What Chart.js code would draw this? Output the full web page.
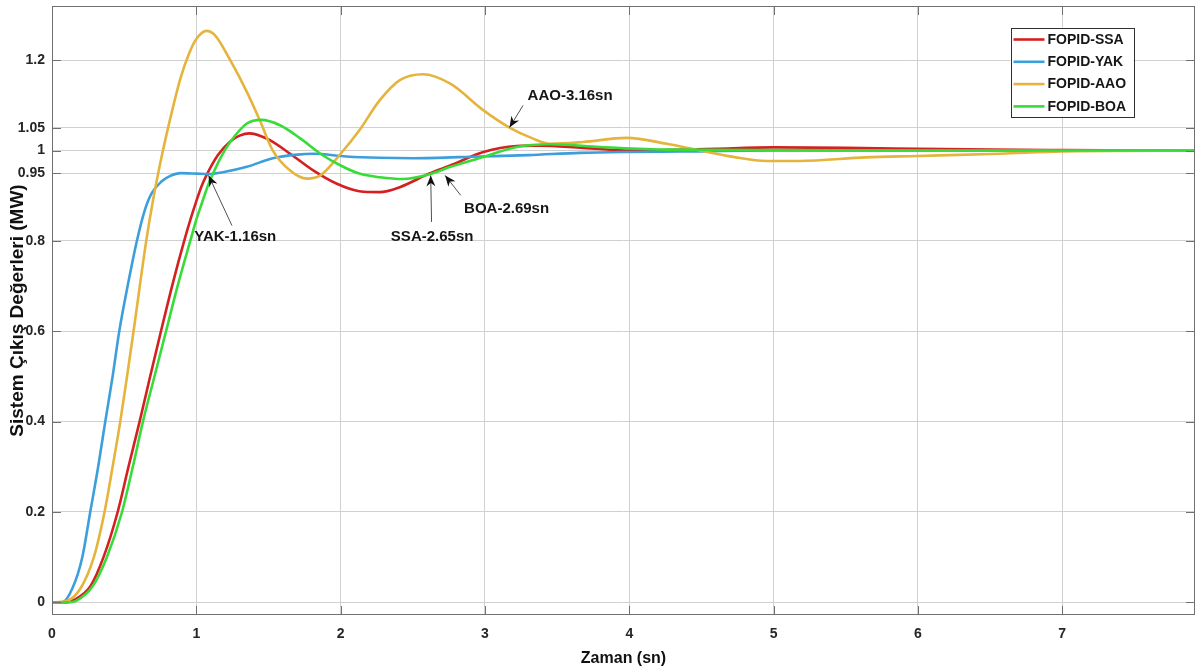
<!DOCTYPE html>
<html><head><meta charset="utf-8">
<script src="https://cdn.jsdelivr.net/npm/chart.js@4.4.1/dist/chart.umd.min.js"></script>
<style>html,body{margin:0;padding:0;background:#fff;overflow:hidden}</style>
</head><body>
<canvas id="c" width="1197" height="671"></canvas>
<script>
// ---------- data ----------
const seriesNames = ['FOPID-SSA', 'FOPID-YAK', 'FOPID-AAO', 'FOPID-BOA'];

const ssaTime = [0, 0.1, 0.15, 0.265, 0.357, 0.455, 0.53, 0.607, 0.68, 0.755, 0.84, 0.916, 0.96, 1.0, 1.035, 1.07, 1.15, 1.235, 1.3, 1.37, 1.44, 1.51, 1.65, 1.81, 1.97, 2.13, 2.27, 2.41, 2.62, 2.76, 2.99, 3.22, 3.38, 3.68, 4.03, 4.26, 4.6, 5.0, 5.5, 6.0, 6.5, 7.0, 7.92];
const ssaValue = [0, 0, 0.005, 0.035, 0.1, 0.2, 0.3, 0.4, 0.5, 0.6, 0.71, 0.8, 0.848, 0.888, 0.92, 0.945, 0.99, 1.02, 1.033, 1.038, 1.033, 1.023, 0.993, 0.956, 0.927, 0.91, 0.908, 0.919, 0.95, 0.967, 0.997, 1.01, 1.011, 1.006, 1.0, 1.001, 1.004, 1.007, 1.006, 1.004, 1.002, 1.001, 1.0];

const yakTime = [0, 0.07, 0.14, 0.21, 0.265, 0.32, 0.369, 0.42, 0.466, 0.53, 0.588, 0.64, 0.69, 0.76, 0.82, 0.89, 1.0, 1.08, 1.2, 1.35, 1.53, 1.7, 1.81, 2.04, 2.27, 2.5, 2.97, 3.3, 3.66, 4.0, 4.35, 5.0, 6.0, 7.0, 7.92];
const yakValue = [0, 0, 0.03, 0.1, 0.2, 0.3, 0.4, 0.5, 0.6, 0.71, 0.8, 0.865, 0.905, 0.932, 0.944, 0.95, 0.949, 0.948, 0.953, 0.964, 0.983, 0.991, 0.993, 0.987, 0.984, 0.983, 0.987, 0.99, 0.995, 0.997, 0.998, 1.0, 1.0, 1.0, 1.0];

const aaoTime = [0, 0.1, 0.196, 0.29, 0.364, 0.42, 0.473, 0.52, 0.565, 0.653, 0.70, 0.762, 0.83, 0.89, 0.95, 1.0, 1.07, 1.13, 1.235, 1.35, 1.44, 1.53, 1.65, 1.765, 1.86, 2.0, 2.13, 2.27, 2.41, 2.57, 2.76, 2.99, 3.17, 3.33, 3.45, 3.68, 3.98, 4.26, 4.49, 4.72, 4.95, 5.18, 5.64, 6.0, 6.57, 7.0, 7.92];
const aaoValue = [0, 0.003, 0.03, 0.1, 0.2, 0.3, 0.4, 0.5, 0.6, 0.8, 0.89, 0.99, 1.085, 1.16, 1.215, 1.247, 1.265, 1.255, 1.2, 1.13, 1.067, 1.0, 0.956, 0.938, 0.945, 0.993, 1.045, 1.111, 1.156, 1.169, 1.148, 1.089, 1.051, 1.027, 1.015, 1.019, 1.028, 1.015, 1.0, 0.986, 0.977, 0.977, 0.985, 0.988, 0.993, 0.998, 1.0];

const boaTime = [0, 0.1, 0.17, 0.28, 0.38, 0.485, 0.56, 0.63, 0.71, 0.79, 0.87, 0.958, 1.0, 1.04, 1.08, 1.11, 1.17, 1.235, 1.35, 1.45, 1.58, 1.72, 1.86, 2.0, 2.13, 2.27, 2.43, 2.62, 2.76, 2.99, 3.22, 3.45, 3.8, 4.26, 5.0, 6.0, 7.0, 7.92];
const boaValue = [0, 0, 0.004, 0.035, 0.1, 0.2, 0.3, 0.4, 0.5, 0.6, 0.7, 0.8, 0.847, 0.885, 0.922, 0.945, 0.985, 1.019, 1.06, 1.068, 1.056, 1.027, 0.993, 0.967, 0.949, 0.941, 0.937, 0.948, 0.964, 0.986, 1.008, 1.014, 1.008, 1.002, 1.001, 1.0, 1.0, 1.0];

const xTicks = [0, 1, 2, 3, 4, 5, 6, 7];
const yTicks = [0, 0.2, 0.4, 0.6, 0.8, 0.95, 1, 1.05, 1.2];

const xTitle = 'Zaman (sn)';
const yTitle = 'Sistem Çıkış Değerleri (MW)';

const noteLabels = ['YAK-1.16sn', 'SSA-2.65sn', 'BOA-2.69sn', 'AAO-3.16sn'];

// ---------- styling / placement ----------
const colors = ['#d42020', '#3c9fdc', '#e5b43c', '#38dc38'];
const drawOrder = [3, 2, 1, 0]; // BOA on top
const FONT = '"Liberation Sans", Arial, Helvetica, sans-serif';

// annotation placement in data coordinates: text centre, arrow tail, arrow tip
const notePlacement = [
  {text: [1.27, 0.808], tail: [1.247, 0.834], tip: [1.085, 0.945]},
  {text: [2.634, 0.808], tail: [2.63, 0.842], tip: [2.624, 0.945]},
  {text: [3.15, 0.872], tail: [2.832, 0.901], tip: [2.724, 0.945]},
  {text: [3.59, 1.122], tail: [3.264, 1.1], tip: [3.17, 1.051]}
];

function pts(t, v) { return t.map((x, i) => ({x: x, y: v[i]})); }
const allSeries = [[ssaTime, ssaValue], [yakTime, yakValue], [aaoTime, aaoValue], [boaTime, boaValue]];

const datasets = allSeries.map((s, i) => ({
  label: seriesNames[i],
  data: pts(s[0], s[1]),
  borderColor: colors[i],
  backgroundColor: colors[i],
  borderWidth: 2.6,
  pointRadius: 0,
  fill: false,
  cubicInterpolationMode: 'monotone',
  order: drawOrder[i]
}));

const framePlugin = {
  id: 'frame',
  afterDraw(chart) {
    const {ctx, chartArea: a, scales} = chart;
    const xs = scales.x, ys = scales.y;
    ctx.save();
    ctx.strokeStyle = '#707070';
    ctx.lineWidth = 1;
    ctx.strokeRect(Math.round(a.left) + 0.5, Math.round(a.top) + 0.5, Math.round(a.right - a.left) - 1, Math.round(a.bottom - a.top) - 1);
    const L = 9;
    ctx.beginPath();
    xs.ticks.forEach(t => {
      const p = Math.round(xs.getPixelForValue(t.value)) + 0.5;
      ctx.moveTo(p, a.bottom); ctx.lineTo(p, a.bottom - L);
      ctx.moveTo(p, a.top); ctx.lineTo(p, a.top + L);
    });
    ys.ticks.forEach(t => {
      const p = Math.round(ys.getPixelForValue(t.value)) + 0.5;
      ctx.moveTo(a.left, p); ctx.lineTo(a.left + L, p);
      ctx.moveTo(a.right, p); ctx.lineTo(a.right - L, p);
    });
    ctx.stroke();

    noteLabels.forEach((lab, i) => {
      const pl = notePlacement[i];
      const tx = xs.getPixelForValue(pl.text[0]), ty = ys.getPixelForValue(pl.text[1]);
      const ax = xs.getPixelForValue(pl.tail[0]), ay = ys.getPixelForValue(pl.tail[1]);
      const bx = xs.getPixelForValue(pl.tip[0]), by = ys.getPixelForValue(pl.tip[1]);
      ctx.strokeStyle = '#505050';
      ctx.lineWidth = 1;
      ctx.beginPath(); ctx.moveTo(ax, ay); ctx.lineTo(bx, by); ctx.stroke();
      const ang = Math.atan2(by - ay, bx - ax);
      const hl = 11, hw = 4.5;
      ctx.fillStyle = '#111';
      ctx.beginPath();
      ctx.moveTo(bx, by);
      ctx.lineTo(bx - hl * Math.cos(ang) + hw * Math.sin(ang), by - hl * Math.sin(ang) - hw * Math.cos(ang));
      ctx.lineTo(bx - hl * 0.7 * Math.cos(ang), by - hl * 0.7 * Math.sin(ang));
      ctx.lineTo(bx - hl * Math.cos(ang) - hw * Math.sin(ang), by - hl * Math.sin(ang) + hw * Math.cos(ang));
      ctx.closePath(); ctx.fill();
      ctx.font = 'bold 15px ' + FONT;
      ctx.textAlign = 'center'; ctx.textBaseline = 'middle';
      ctx.fillStyle = '#161616';
      ctx.fillText(lab, tx, ty);
    });

    const lx = a.right - 184.5, ly = a.top + 21.5, lw = 123, lh = 89;
    ctx.fillStyle = '#fff';
    ctx.fillRect(lx, ly, lw, lh);
    ctx.strokeStyle = '#303030';
    ctx.lineWidth = 1;
    ctx.strokeRect(Math.round(lx) + 0.5, Math.round(ly) + 0.5, lw, lh);
    ctx.font = 'bold 14px ' + FONT;
    ctx.textAlign = 'left'; ctx.textBaseline = 'middle';
    seriesNames.forEach((n, i) => {
      const yy = ly + 12 + i * 22.3;
      ctx.strokeStyle = colors[i]; ctx.lineWidth = 2.6;
      ctx.beginPath(); ctx.moveTo(lx + 3, yy); ctx.lineTo(lx + 34, yy); ctx.stroke();
      ctx.fillStyle = '#161616';
      ctx.fillText(n, lx + 37, yy + 0.5);
    });
    ctx.restore();
  }
};

new Chart(document.getElementById('c'), {
  type: 'line',
  data: {datasets: datasets},
  plugins: [framePlugin],
  options: {
    responsive: false,
    animation: false,
    devicePixelRatio: 1,
    layout: {padding: {top: 6, right: 2, left: 0, bottom: 0}},
    plugins: {legend: {display: false}, tooltip: {enabled: false}},
    scales: {
      x: {
        type: 'linear', min: 0, max: 7.92,
        afterBuildTicks: s => { s.ticks = xTicks.map(v => ({value: v})); },
        afterFit: s => { s.height = 56; s.paddingLeft = 0; s.paddingRight = 0; },
        grid: {color: '#d0d0d0', lineWidth: 1, drawTicks: false},
        border: {display: false},
        ticks: {
          autoSkip: false, maxRotation: 0, padding: 11,
          color: '#262626', font: {family: FONT, size: 14, weight: 'bold'},
          callback: v => String(v)
        },
        title: {display: true, text: xTitle, color: '#111', font: {family: FONT, size: 16, weight: 'bold'}, padding: {top: 0, bottom: 3}}
      },
      y: {
        type: 'linear', min: -0.028, max: 1.32,
        afterBuildTicks: s => { s.ticks = yTicks.map(v => ({value: v})); },
        afterFit: s => { s.width = 52; s.paddingTop = 0; s.paddingBottom = 0; },
        grid: {color: '#d0d0d0', lineWidth: 1, drawTicks: false},
        border: {display: false},
        ticks: {
          autoSkip: false, padding: 7,
          color: '#262626', font: {family: FONT, size: 14, weight: 'bold'},
          callback: v => String(v)
        },
        title: {display: true, text: yTitle, color: '#111', font: {family: FONT, size: 19, weight: 'bold'}, padding: {top: 6, bottom: 0}}
      }
    }
  }
});
</script>
</body></html>
